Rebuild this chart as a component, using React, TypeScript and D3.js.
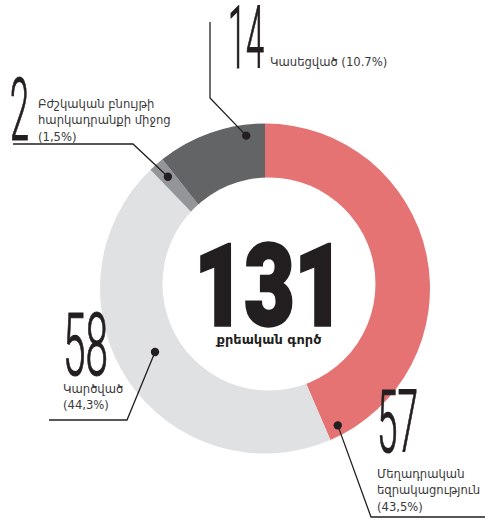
import React, { useEffect } from 'react'
import * as d3 from 'd3'

// case outcomes, clockwise from 12 o'clock
const categories = ['Մեղադրական եզրակացություն', 'Կարճված', 'Բժշկական բնույթի հարկադրանքի միջոց', 'Կասեցված']
const counts = [57, 58, 2, 14]
const shares = ['43,5%', '44,3%', '1,5%', '10.7%']
const colors = ['#e57373', '#e0e1e3', '#939598', '#636466']
const total = 131
const totalLabel = 'քրեական գործ'

const W = 485, H = 520
const cx = 265, cy = 288.5, R = 165

// callout layout: dot (angle deg, radius), leader path, number & label position
const callouts = [
  { i: 0, ang: 152, r: 155, path: [[371, 517], [485, 517]], nx: 377, ny: 452, nw: 41, lines: ['Մեղադրական', 'եզրակացություն', '(43,5%)'], ly: 478 },
  { i: 1, ang: 240, r: 127, path: [[127, 420], [49, 420]], nx: 63, ny: 375, nw: 45, lines: ['Կարծված', '(44,3%)'], ly: 393 },
  { i: 2, ang: 319, r: 148, path: [[133, 144], [13, 144]], nx: 10, ny: 140, nw: 19, lines: ['Բժշկական բնույթի', 'հարկադրանքի միջոց', '(1,5%)'], ly: 108, lx: 38 },
  { i: 3, ang: 353, r: 154, path: [[210, 98], [210, 22]], nx: 228, ny: 68, nw: 36, lines: ['Կասեցված (10.7%)'], ly: 66, lx: 270 },
]

const ink = '#231f20'
const thin = "'Roboto', 'DejaVu Sans', sans-serif"
const body = "'DejaVu Sans', sans-serif"

export default function App() {
  useEffect(() => { document.body.style.margin = '0' }, [])

  const pie = d3.pie<number>().sort(null).value(d => d)
  const arcs = pie(counts)
  const arc = d3.arc<d3.PieArcDatum<number>>().innerRadius(90).outerRadius(R)

  return (
    <svg width={W} height={H} viewBox={`0 0 ${W} ${H}`} style={{ display: 'block' }}>
      <g transform={`translate(${cx},${cy})`}>
        {arcs.map((a, k) => (
          <path key={k} d={arc(a) || ''} fill={colors[k]}>
            <title>{`${categories[k]}: ${counts[k]} (${shares[k]})`}</title>
          </path>
        ))}
      </g>
      <circle cx={269} cy={284} r={106.5} fill="#fff" />

      {callouts.map(c => {
        const [dx, dy] = d3.pointRadial((c.ang * Math.PI) / 180, c.r)
        const dot: [number, number] = [cx + dx, cy + dy]
        const line = d3.line()([dot, ...(c.path as [number, number][])]) || ''
        const lx = c.lx ?? c.nx
        return (
          <g key={c.i}>
            <path d={line} fill="none" stroke={ink} strokeWidth={1.3} />
            <circle cx={dot[0]} cy={dot[1]} r={4.2} fill={ink} />
            <text x={c.nx} y={c.ny} fontFamily={thin} fontWeight={300} fontSize={87} fill={ink}
              stroke={ink} strokeWidth={1.2}
              textLength={c.nw} lengthAdjust="spacingAndGlyphs">{counts[c.i]}</text>
            {c.lines.map((t, j) => (
              <text key={j} x={lx} y={c.ly + j * 16.3} fontFamily={body} fontSize={11.6}
                fill="#3a3a3a">{t}</text>
            ))}
          </g>
        )
      })}

      <text x={269.5} y={325} textAnchor="middle" fontFamily="'Roboto', 'Liberation Sans', sans-serif"
        fontWeight={900} fontSize={114} fill={ink} stroke={ink} strokeWidth={3.5}
        textLength={150} lengthAdjust="spacingAndGlyphs">{total}</text>
      <text x={269} y={344} textAnchor="middle" fontFamily={body} fontWeight="bold"
        fontSize={13} fill={ink}>{totalLabel}</text>
    </svg>
  )
}
